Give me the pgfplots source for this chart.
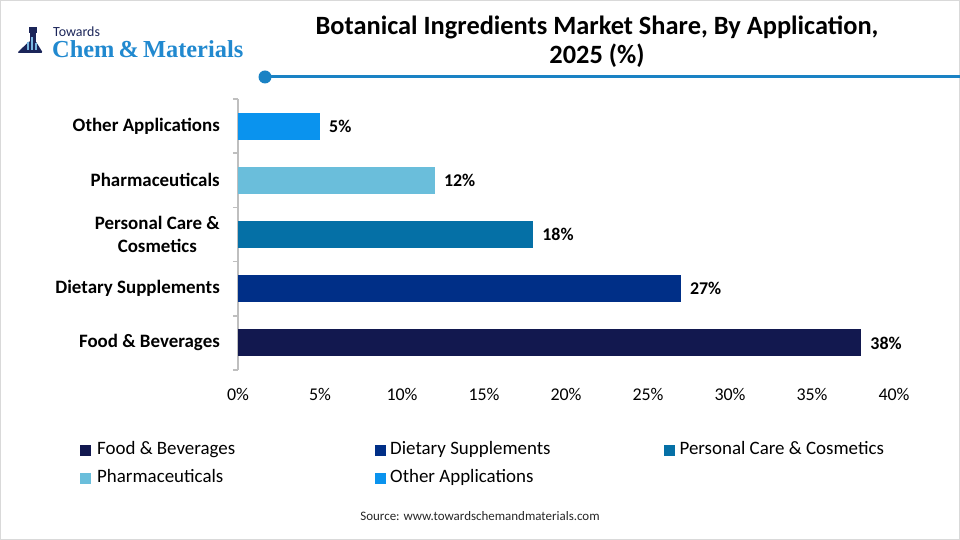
\documentclass[border=0pt]{standalone}
\usepackage{pgfplots}
\pgfplotsset{compat=1.18}
\usepackage{fontspec}
\setmainfont{Carlito}
\newfontfamily\logoserif{Liberation Serif}

\definecolor{foodc}{HTML}{12184F}
\definecolor{dietc}{HTML}{002F87}
\definecolor{carec}{HTML}{0570A6}
\definecolor{pharmc}{HTML}{6ABEDB}
\definecolor{otherc}{HTML}{0A93EE}
\definecolor{accent}{HTML}{1A82C4}
\definecolor{navy}{HTML}{1B2559}
\definecolor{logoblue}{HTML}{2189CF}
\definecolor{axisgray}{HTML}{BFBFBF}

\pgfplotsset{
  sqlegend/.style={legend image code/.code={\fill[##1] (0bp,-5.5bp) rectangle (11bp,5.5bp);}},
  onebar/.style={fill=#1, draw=none, bar shift=0pt, sqlegend},
}

\begin{document}
\begin{tikzpicture}[x=1bp,y=1bp]
\path[use as bounding box] (0,0) rectangle (960,540);
\draw[gray!30, line width=1bp] (0.5,0.5) rectangle (959.5,539.5);

% logo: flask icon and wordmark
\fill[navy] (28.5,507) rectangle (36.5,512.5);
\fill[navy] (29.5,498) rectangle (35.5,507);
\fill[navy, rounded corners=1.5bp] (29.5,499) -- (35.5,499) -- (43,487) -- (17,487) -- cycle;
\fill[logoblue!60] (27,490) rectangle (29,498);
\fill[logoblue!60] (31,490) rectangle (33,503);
\fill[logoblue!60] (35,490) rectangle (37,497);
\node[anchor=base west, inner sep=0pt, text=navy, font=\fontsize{14}{14}\selectfont] at (53,503) {Towards};
\node[anchor=base west, inner sep=0pt, text=logoblue, font=\fontsize{24.5}{24.5}\selectfont\logoserif\bfseries] at (52,482) {Chem\,\&\,Materials};

% title and rule
\node[anchor=base, inner sep=0pt, font=\fontsize{26.5}{28}\selectfont\bfseries] at (597,505) {Botanical Ingredients Market Share, By Application,};
\node[anchor=base, inner sep=0pt, font=\fontsize{26.5}{28}\selectfont\bfseries] at (597,476.5) {2025 (\%)};
\draw[accent, line width=3bp] (265,463) -- (960,463);
\fill[accent] (265,463) circle (6.5bp);

\coordinate (axsw) at (238,170);
\begin{axis}[
  at={(axsw)}, anchor=south west,
  scale only axis, width=656bp, height=271bp,
  xbar, bar width=27bp,
  xmin=0, xmax=40, ymin=-0.5, ymax=4.5,
  axis x line*=bottom, axis y line*=left,
  x axis line style={draw=none},
  y axis line style={-, draw=axisgray, line width=1.5bp},
  /pgf/number format/assume math mode=true,
  xtick={0,5,...,40},
  xticklabel={\pgfmathprintnumber{\tick}\%},
  major x tick style={draw=none},
  xticklabel style={inner sep=0bp, yshift=-18bp, font=\fontsize{18}{18}\selectfont},
  ytick={0,...,4},
  yticklabels={Food \& Beverages, Dietary Supplements, {Personal Care \&\\Cosmetics}, Pharmaceuticals, Other Applications},
  yticklabel style={align=center, inner sep=0bp, xshift=-18bp, font=\fontsize{19}{23}\selectfont\bfseries},
  major tick length=0pt,
  minor ytick={-0.5,0.5,...,4.5},
  minor tick length=5bp,
  tick align=outside,
  minor y tick style={draw=axisgray, line width=1.5bp},
  point meta=x,
  nodes near coords={\pgfmathprintnumber{\pgfplotspointmeta}\%},
  nodes near coords align=horizontal,
  every node near coord/.append style={anchor=west, inner sep=0bp, xshift=9bp, text=black, font=\fontsize{18}{18}\selectfont\bfseries},
  legend columns=3,
  legend cell align=left,
  legend style={
    at={(-0.2409,-0.259)}, anchor=north west,
    draw=none, inner sep=0pt,
    font=\fontsize{19}{19}\selectfont,
    nodes={inner xsep=0bp, inner ysep=2bp, text height=12.5bp, text depth=4bp},
    row sep=7.5bp,
    /tikz/column 1/.style={column sep=6bp},
    /tikz/column 2/.style={column sep=140bp},
    /tikz/column 3/.style={column sep=4bp},
    /tikz/column 4/.style={column sep=113bp},
    /tikz/column 5/.style={column sep=5bp},
  },
]
\addplot[onebar=foodc]   coordinates {(38,0)};
\addlegendentry{Food \& Beverages}
\addplot[onebar=dietc]   coordinates {(27,1)};
\addlegendentry{Dietary Supplements}
\addplot[onebar=carec]   coordinates {(18,2)};
\addlegendentry{Personal Care \& Cosmetics}
\addplot[onebar=pharmc]  coordinates {(12,3)};
\addlegendentry{Pharmaceuticals}
\addplot[onebar=otherc]  coordinates {(5,4)};
\addlegendentry{Other Applications}
\end{axis}

\node[font=\fontsize{13}{13}\selectfont, text=black!85] at (480,24) {Source: www.towardschemandmaterials.com};
\end{tikzpicture}
\end{document}
